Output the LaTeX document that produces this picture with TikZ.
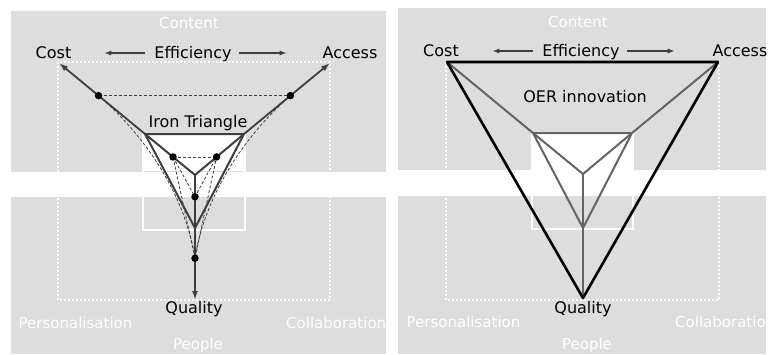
\documentclass[tikz,border=0pt]{standalone}
\usepackage{fontspec}
\setmainfont{DejaVu Sans}
\usetikzlibrary{arrows.meta, calc, positioning}
\definecolor{panelgray}{RGB}{221,221,221}
\definecolor{linegray}{RGB}{62,62,62}
\definecolor{innergray}{RGB}{100,100,100}

\begin{document}
\begin{tikzpicture}[x=1pt, y=-1pt,
    txt/.style={font=\fontsize{16}{19}\selectfont, text=black, inner sep=0pt, anchor=base},
    ghost/.style={font=\fontsize{15}{18}\selectfont, text=white, inner sep=0pt, anchor=base},
    ironline/.style={draw=linegray, line width=2pt, line join=round},
    spoke/.style={draw=linegray, line width=1.8pt, -{Latex[length=9pt,width=6pt]}},
    effarrow/.style={draw=linegray, line width=1.3pt, -{Latex[length=7pt,width=5pt]}},
    guide/.style={draw=linegray, line width=0.8pt, dash pattern=on 3pt off 2pt},
    blob/.style={circle, fill=black, inner sep=0pt, minimum size=7.5pt},
    boxline/.style={draw=white, line width=1.6pt},
    frame/.style={draw=white, line width=1.6pt, dash pattern=on 1.6pt off 2.4pt},
    bigtri/.style={draw=black, line width=2.6pt, line join=round},
    oerline/.style={draw=innergray, line width=2pt, line join=round}]
    \useasboundingbox (0,0) rectangle (769,354);

    % grey backgrounds, two panels split by a white band
    \fill[panelgray] (11,11) rectangle (386,172);
    \fill[panelgray] (11,197) rectangle (386,354);
    \fill[panelgray] (398,8) rectangle (766,170);
    \fill[panelgray] (398,196) rectangle (766,354);

    % ---------- left panel: iron triangle ----------
    \coordinate (ironA) at (145,134);
    \coordinate (ironB) at (244,134);
    \coordinate (ironC) at (195,228);
    \coordinate (ironO) at (195,175);
    \coordinate (costtip) at (59,63);
    \coordinate (accesstip) at (330,63);
    \coordinate (qualtip) at (195,300);

    \fill[white] (143,134) rectangle (245,171);
    \draw[boxline] (143,134) rectangle (245,230);
    \draw[frame] (58,62) rectangle (330,300);

    \coordinate (outerL) at ($(ironA)!0.54!(costtip)$);
    \coordinate (outerR) at ($(ironB)!0.54!(accesstip)$);
    \coordinate (outerC) at ($(ironC)!0.42!(qualtip)$);
    \coordinate (innerL) at ($(ironO)!0.44!(ironA)$);
    \coordinate (innerR) at ($(ironO)!0.44!(ironB)$);
    \coordinate (innerC) at ($(ironO)!0.41!(ironC)$);

    % dashed trade-off shapes
    \draw[guide] (outerL) -- (outerR);
    \draw[guide] (outerL) .. controls (150,140) and (186,200) .. (outerC);
    \draw[guide] (outerR) .. controls (240,140) and (204,200) .. (outerC);
    \draw[guide] (innerL) -- (innerR);
    \draw[guide] (innerL) -- (innerC) -- (innerR);
    \draw[guide] (innerL) -- (outerC) -- (innerR);

    \draw[ironline] (ironA) -- (ironB) -- (ironC) -- cycle;
    \draw[ironline] (ironO) -- (ironA);
    \draw[ironline] (ironO) -- (ironB);
    \draw[ironline] (ironO) -- (ironC);
    \draw[spoke] (ironA) -- (costtip);
    \draw[spoke] (ironB) -- (accesstip);
    \draw[spoke] (ironC) -- (qualtip);

    \foreach \p in {outerL, outerR, outerC, innerL, innerR, innerC}
        \node[blob] at (\p) {};

    \node[txt] (costL) at (53.5,58) {Cost};
    \node[txt] (effL) at (193,58) {Efficiency};
    \node[txt] (accessL) at (350,58) {Access};
    \node[txt] (ironL) at (198,127) {Iron Triangle};
    \node[txt] (qualityL) at (194,313) {Quality};
    \draw[effarrow] ([xshift=-9pt]effL.west |- 0,53) -- ([xshift=-50pt]effL.west |- 0,53);
    \draw[effarrow] ([xshift=7pt]effL.east |- 0,53) -- ([xshift=55pt]effL.east |- 0,53);

    \begin{scope}
        \clip (11,0) rectangle (386,354);
        \node[ghost] (contentL) at (189,28) {Content};
        \node[ghost] (persL) at (75.5,328) {Personalisation};
        \node[ghost, anchor=base west] (collabL) at (286,328) {Collaboration};
        \node[ghost] (peopleL) at (198,349) {People};
    \end{scope}

    % ---------- right panel: OER innovation ----------
    \coordinate (bigP) at (447,62);
    \coordinate (bigQ) at (718,62);
    \coordinate (bigR) at (583,298);
    \coordinate (oerA) at (533,133);
    \coordinate (oerB) at (632,133);
    \coordinate (oerC) at (583,228);
    \coordinate (oerO) at (583,174);

    \fill[white] (532,133) rectangle (633,170);
    \draw[boxline] (532,133) rectangle (633,229);
    \draw[frame] (446,62) rectangle (719,300);

    \draw[oerline] (oerA) -- (oerB) -- (oerC) -- cycle;
    \draw[oerline] (oerO) -- (oerA);
    \draw[oerline] (oerO) -- (oerB);
    \draw[oerline] (oerO) -- (oerC);
    \draw[oerline] (bigP) -- (oerA);
    \draw[oerline] (bigQ) -- (oerB);
    \draw[oerline] (oerC) -- (bigR);
    \draw[bigtri] (bigP) -- (bigQ) -- (bigR) -- cycle;

    \node[txt] (costR) at (441,56) {Cost};
    \node[txt] (effR) at (581,56) {Efficiency};
    \node[txt] (accessR) at (740,56) {Access};
    \node[txt] (oerL) at (585,102) {OER innovation};
    \node[txt] (qualityR) at (583,313) {Quality};
    \draw[effarrow] ([xshift=-9pt]effR.west |- 0,51) -- ([xshift=-50pt]effR.west |- 0,51);
    \draw[effarrow] ([xshift=7pt]effR.east |- 0,51) -- ([xshift=55pt]effR.east |- 0,51);

    \begin{scope}
        \clip (398,0) rectangle (766,354);
        \node[ghost] (contentR) at (578,27) {Content};
        \node[ghost] (persR) at (463.5,327) {Personalisation};
        \node[ghost, anchor=base west] (collabR) at (675,327) {Collaboration};
        \node[ghost] (peopleR) at (587,349) {People};
    \end{scope}
\end{tikzpicture}
\end{document}
